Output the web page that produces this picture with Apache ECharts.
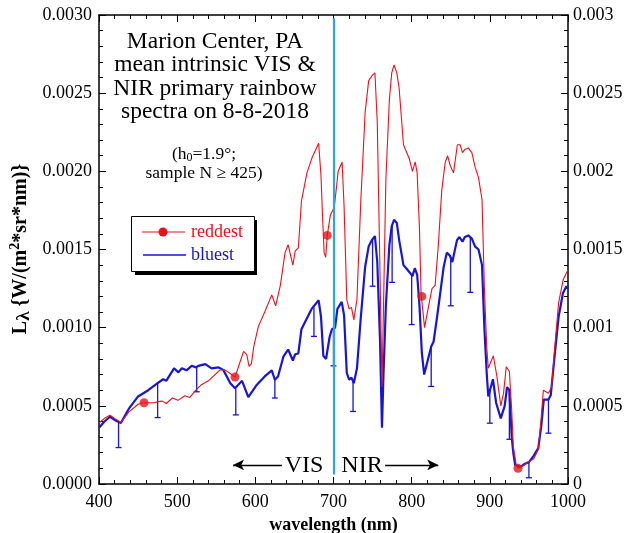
<!DOCTYPE html>
<html><head><meta charset="utf-8">
<script src="https://cdn.jsdelivr.net/npm/echarts@6/dist/echarts.min.js"></script>
<style>html,body{margin:0;padding:0;background:#fff}#c{width:624px;height:533px}</style>
</head><body><div id="c"></div>
<script>
// wavelength (nm), radiance
const reddest = [
[400,0.00039],[407,0.00042],[414,0.00044],[420,0.00042],[428,0.000393],[438,0.00046],[450,0.00051],[457,0.00052],
[463,0.00052],[470,0.00052],[476,0.000527],[481,0.00053],[486,0.000515],[494,0.00055],[501,0.000535],[510,0.000564],
[516,0.000553],[523,0.000596],[531,0.000635],[540,0.00066],[546,0.000688],[555,0.00073],[561,0.00073],[567,0.00071],
[574,0.000684],[580,0.000774],[585,0.000848],[589,0.000827],[592,0.000752],[595,0.00077],[598,0.00088],[604,0.00101],
[612,0.0011],[621,0.00121],[626,0.00114],[632,0.00127],[638,0.00148],[642,0.00153],[648,0.0014],[651,0.00149],
[655,0.00151],[659,0.00181],[666,0.00199],[672,0.00208],[681,0.00218],[684,0.00197],[686,0.00171],[688,0.00148],
[690,0.00145],[692,0.00159],[696,0.00172],[701,0.00177],[706,0.002],[711,0.00206],[713.5,0.00178],[717,0.00118],
[720,0.00112],[723,0.00113],[726,0.00105],[730,0.00118],[735,0.00182],[740.5,0.00238],[745,0.00258],[749,0.00261],
[753,0.00263],[756,0.00231],[759.5,0.00135],[762,0.00062],[764,0.00114],[767,0.00195],[771.5,0.00246],[774.5,0.00263],
[777.5,0.00268],[781,0.00263],[784,0.00253],[789.5,0.00217],[792,0.00214],[797,0.00208],[801,0.002],[804.5,0.00206],
[807,0.00199],[810,0.00163],[812,0.00122],[816.5,0.001],[821,0.00112],[826,0.00125],[830,0.00127],[834,0.00152],
[838.5,0.00188],[843,0.00206],[846,0.0021],[849,0.00204],[853.5,0.00199],[858.5,0.00217],[862,0.00217],[865,0.00212],
[868,0.00214],[872.5,0.00215],[877,0.00212],[881,0.00203],[885.5,0.00196],[890,0.00182],[893,0.00126],[896,0.00088],
[898,0.00074],[904.5,0.00082],[909,0.00069],[914,0.0005],[917.5,0.00058],[921,0.00075],[925,0.00072],[928,0.00047],
[930,0.00024],[933.5,0.00013],[936,0.0001],[942,0.000113],[949.5,0.000143],[956,0.00016],[962,0.00022],[965,0.00038],
[968.5,0.0006],[975,0.00058],[979,0.00062],[983.5,0.0009],[988,0.00116],[994,0.00131],[1000,0.00137]
];
const bluest = [
[400,0.00036],[407,0.0004],[414,0.00043],[420,0.00041],[428,0.00039],[438,0.00048],[450,0.00056],[463,0.0006],
[475,0.000645],[482,0.00067],[486,0.00066],[496,0.00074],[501.5,0.000714],[506,0.00074],[512,0.000727],[518.5,0.000756],
[524,0.000746],[527,0.000756],[536,0.000767],[544,0.00074],[553,0.000746],[559,0.00073],[568,0.000645],[574,0.000613],
[583,0.00066],[591,0.000556],[602,0.000635],[612,0.000688],[621,0.000727],[625,0.000667],[629,0.000688],[636,0.000816],
[642,0.00086],[648,0.00079],[651,0.00083],[655,0.000835],[659,0.00099],[666,0.00106],[672,0.00112],[681,0.001175],
[684,0.00107],[687,0.00082],[690.5,0.0008],[695,0.00094],[698,0.00099],[702,0.001],[705,0.00112],[710.5,0.001165],
[713.5,0.00108],[717,0.00071],[720,0.000667],[723,0.00068],[726,0.000645],[730,0.00074],[735,0.00107],[740.5,0.00139],
[745,0.00152],[749,0.00156],[753,0.001585],[756,0.00142],[759.5,0.00092],[762,0.00036],[764,0.00071],[767,0.00114],
[771.5,0.00153],[774.5,0.00165],[777.5,0.00169],[781,0.00167],[784,0.00156],[789.5,0.0014],[793,0.00138],[798,0.00135],
[801,0.00133],[804,0.00138],[807,0.00134],[810,0.00114],[813,0.00084],[816,0.0007],[821,0.0008],[825,0.00088],
[828,0.00091],[832,0.00105],[836.5,0.00122],[841,0.00139],[845,0.00148],[849,0.00146],[852,0.00142],[858,0.00156],
[861,0.00158],[865,0.00155],[868,0.00158],[872.5,0.00159],[877,0.00157],[881,0.00152],[885.5,0.0015],[890,0.0014],
[893,0.001],[896,0.00071],[898,0.00056],[904,0.00067],[908,0.00052],[914,0.00042],[919,0.0005],[922,0.00062],
[925,0.0006],[928,0.0003],[930,0.0002],[932.5,0.00012],[939,0.00011],[945,0.00013],[950,0.00014],[956,0.00018],
[962,0.00023],[966,0.00038],[969,0.00054],[975,0.00054],[978,0.00057],[982.5,0.0008],[988,0.00107],[993.5,0.00122],
[998,0.001265],[1000,0.00125]
];
// [wavelength, top (bluest mean), bottom]
const errorBars = [
[425,0.0004,0.000233],[475,0.000645,0.000425],[525,0.00075,0.00059],[575,0.00061,0.000442],[625,0.000667,0.00055],
[675,0.00113,0.000944],[700,0.001,0.000756],[725,0.00066,0.000464],[750,0.00156,0.001265],[775,0.00165,0.00129],
[800,0.00133,0.00102],[825,0.00088,0.000624],[850,0.00145,0.00114],[875,0.00158,0.001226],[900,0.0006,0.000389],
[925,0.0006,0.000286],[950,0.00014,0.00004],[975,0.00054,0.000325]
];
const redMarkers = [[457.6,0.00052],[574,0.000684],[692,0.00159],[813,0.0012],[936,0.0001]];
const visNirBoundary = 700;
const visArrow = [[634,0.000122],[571.5,0.000122]];
const nirArrow = [[766,0.000122],[834,0.000122]];
const xRange = [400, 1000], xStep = 100;
const yRange = [0, 0.003], yStep = 0.0005;

const RED = '#e6141a', BLUE = '#1616d4', CYAN = '#2aa8de';
const SERIF = '"Liberation Serif", "DejaVu Serif", serif';

const chart = echarts.init(document.getElementById('c'), null, {renderer: 'canvas'});
const axisCommon = {
  axisLine: {show: true, onZero: false, lineStyle: {color: '#000', width: 1.5}},
  axisTick: {show: true, inside: true, length: 7, lineStyle: {color: '#000', width: 1}},
  minorTick: {show: true, inside: true, splitNumber: 5, length: 4, lineStyle: {color: '#000', width: 1}},
  splitLine: {show: false}
};
const xBase = Object.assign({type: 'value', min: xRange[0], max: xRange[1], interval: xStep}, axisCommon);
const yBase = Object.assign({type: 'value', min: yRange[0], max: yRange[1], interval: yStep}, axisCommon);

chart.setOption({
  animation: false,
  backgroundColor: '#fff',
  grid: {left: 99, right: 56, top: 15, bottom: 49, containLabel: false, outerBoundsMode: 'none'},
  xAxis: [
    Object.assign({}, xBase, {position: 'bottom',
      axisLabel: {show: true, color: '#000', fontFamily: SERIF, fontSize: 18, margin: 9,
        formatter: v => String(v)},
      name: 'wavelength (nm)', nameLocation: 'middle', nameGap: 30,
      nameTextStyle: {fontFamily: SERIF, fontWeight: 'bold', fontSize: 18, color: '#000'}}),
    Object.assign({}, xBase, {position: 'top', axisLabel: {show: false}})
  ],
  yAxis: [
    Object.assign({}, yBase, {position: 'left',
      axisLabel: {show: true, color: '#000', fontFamily: SERIF, fontSize: 18, margin: 7,
        formatter: v => v.toFixed(4)}}),
    Object.assign({}, yBase, {position: 'right',
      axisLabel: {show: true, color: '#000', fontFamily: SERIF, fontSize: 18, margin: 5,
        formatter: v => String(+v.toFixed(4))}})
  ],
  series: [
    {name: 'bluest', type: 'line', data: bluest, showSymbol: false, symbol: 'none',
      lineStyle: {color: BLUE, width: 2.2}, z: 2},
    {name: 'errors', type: 'custom', data: errorBars, encode: {x: 0, y: [1, 2]}, z: 3,
      renderItem: (params, api) => {
        const t = api.coord([api.value(0), api.value(1)]);
        const b = api.coord([api.value(0), api.value(2)]);
        const st = {stroke: BLUE, lineWidth: 1.3};
        return {type: 'group', children: [
          {type: 'line', shape: {x1: t[0], y1: t[1], x2: b[0], y2: b[1]}, style: st},
          {type: 'line', shape: {x1: b[0] - 3, y1: b[1], x2: b[0] + 3, y2: b[1]}, style: st}
        ]};
      }},
    {name: 'reddest', type: 'line', data: reddest, showSymbol: false, symbol: 'none',
      lineStyle: {color: RED, width: 1.1}, z: 4},
    {name: 'reddestMarks', type: 'scatter', data: redMarkers, symbol: 'circle', symbolSize: 9,
      itemStyle: {color: RED}, z: 5},
    {name: 'annot', type: 'line', data: [], z: 6,
      markLine: {silent: true, animation: false, label: {show: false},
        lineStyle: {color: '#000', width: 1.3, type: 'solid'}, symbolSize: [8, 11],
        data: [
          [{coord: visArrow[0], symbol: 'none'}, {coord: visArrow[1], symbol: 'arrow'}],
          [{coord: nirArrow[0], symbol: 'none'}, {coord: nirArrow[1], symbol: 'arrow'}]
        ]}},
    {name: 'boundary', type: 'line', data: [], z: 10,
      markLine: {silent: true, animation: false, symbol: 'none', label: {show: false},
        lineStyle: {color: CYAN, width: 2.2, type: 'solid'},
        data: [[{coord: [visNirBoundary, 0.00006]}, {coord: [visNirBoundary, 0.00298]}]]}}
  ],
  graphic: [
    {type: 'text', x: 215, y: 77, z: 20, style: {
      text: 'Marion Center, PA\nmean intrinsic VIS &\nNIR primary rainbow\nspectra on 8-8-2018',
      font: '23.5px ' + SERIF, fill: '#000', align: 'center', verticalAlign: 'middle', lineHeight: 23.4}},
    {type: 'text', x: 204, y: 164, z: 20, style: {
      text: '{n|(h}{s|0}{n|=1.9°;}\n{n|sample N ≥ 425)}',
      font: '17.5px ' + SERIF, fill: '#000', align: 'center', verticalAlign: 'middle',
      rich: {
        n: {fontFamily: SERIF, fontSize: 17.5, lineHeight: 18.5, fill: '#000'},
        s: {fontFamily: SERIF, fontSize: 12, lineHeight: 12, verticalAlign: 'bottom', fill: '#000'}
      }}},
    {type: 'text', x: 304, y: 466, z: 20, style: {text: 'VIS', font: '24px ' + SERIF, fill: '#000',
      align: 'center', verticalAlign: 'middle'}},
    {type: 'text', x: 362, y: 466, z: 20, style: {text: 'NIR', font: '24px ' + SERIF, fill: '#000',
      align: 'center', verticalAlign: 'middle'}},
    {type: 'text', x: 21, y: 249, rotation: Math.PI / 2, z: 20, style: {
      text: '{b|L}{l|λ}{b| {W/(m}{p|2}{b|*sr*nm)}}',
      font: 'bold 20px ' + SERIF, fill: '#000', align: 'center', verticalAlign: 'middle',
      rich: {
        b: {fontFamily: SERIF, fontWeight: 'bold', fontSize: 20, lineHeight: 26, fill: '#000'},
        l: {fontFamily: SERIF, fontWeight: 'bold', fontSize: 19, lineHeight: 16, verticalAlign: 'bottom', fill: '#000'},
        p: {fontFamily: SERIF, fontWeight: 'bold', fontSize: 14, lineHeight: 14, verticalAlign: 'top', fill: '#000'}
      }}},
    // legend box
    {type: 'rect', z: 20, shape: {x: 135, y: 220, width: 122, height: 55}, style: {fill: '#000'}},
    {type: 'rect', z: 21, shape: {x: 131.5, y: 216.5, width: 123, height: 55}, style: {fill: '#fff', stroke: '#000', lineWidth: 1}},
    {type: 'line', z: 22, shape: {x1: 142, y1: 232, x2: 185, y2: 232}, style: {stroke: RED, lineWidth: 1.1}},
    {type: 'circle', z: 22, shape: {cx: 163, cy: 232, r: 4.5}, style: {fill: RED}},
    {type: 'text', z: 22, x: 191, y: 232, style: {text: 'reddest', font: '18px ' + SERIF, fill: RED, verticalAlign: 'middle'}},
    {type: 'line', z: 22, shape: {x1: 143, y1: 255, x2: 186, y2: 255}, style: {stroke: BLUE, lineWidth: 1.5}},
    {type: 'text', z: 22, x: 191, y: 255, style: {text: 'bluest', font: '18px ' + SERIF, fill: BLUE, verticalAlign: 'middle'}}
  ]
});
</script>
</body></html>
